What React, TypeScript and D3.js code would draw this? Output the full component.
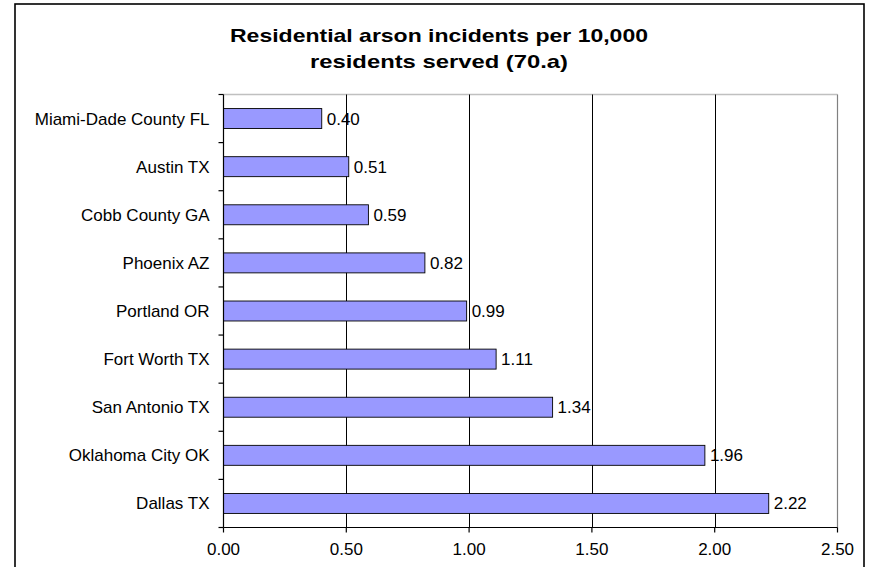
import React, { useEffect, useRef } from "react";
import * as d3 from "d3";

// Residential arson incidents per 10,000 residents served, by department
const categories: string[] = [
  "Miami-Dade County FL",
  "Austin TX",
  "Cobb County GA",
  "Phoenix AZ",
  "Portland OR",
  "Fort Worth TX",
  "San Antonio TX",
  "Oklahoma City OK",
  "Dallas TX",
];
const values: number[] = [0.4, 0.51, 0.59, 0.82, 0.99, 1.11, 1.34, 1.96, 2.22];
const xTicks: number[] = [0, 0.5, 1.0, 1.5, 2.0, 2.5];
const titleLines: string[] = [
  "Residential arson incidents per 10,000",
  "residents served (70.a)",
];

const W = 869;
const H = 567;
const FONT = "'Liberation Sans', Arial, Helvetica, sans-serif";

export default function App() {
  const ref = useRef<SVGSVGElement>(null);

  useEffect(() => {
    const svg = d3.select(ref.current);
    svg.selectAll("*").remove();

    const plot = { left: 223.5, right: 837.5, top: 94.5, bottom: 527.5 };

    const x = d3.scaleLinear().domain([0, 2.5]).range([plot.left, plot.right]);
    const y = d3
      .scaleBand<string>()
      .domain(categories)
      .range([plot.top, plot.bottom])
      .paddingInner(0.585)
      .paddingOuter(0.2925);
    const step = y.step();

    // chart frame
    svg
      .append("rect")
      .attr("x", 15)
      .attr("y", 4)
      .attr("width", 849)
      .attr("height", 600)
      .attr("fill", "#fff")
      .attr("stroke", "#000")
      .attr("stroke-width", 1.6);

    // title
    const title = svg
      .append("g")
      .attr("font-family", FONT)
      .attr("font-weight", "bold")
      .attr("font-size", 19)
      .attr("text-anchor", "middle")
      .attr("fill", "#000");
    const lengths = [418, 258];
    titleLines.forEach((line, i) => {
      title
        .append("text")
        .attr("x", 439)
        .attr("y", 42 + i * 25.5)
        .attr("textLength", lengths[i])
        .attr("lengthAdjust", "spacingAndGlyphs")
        .text(line);
    });

    // plot border (top and right)
    svg
      .append("line")
      .attr("x1", plot.left)
      .attr("x2", plot.right)
      .attr("y1", plot.top)
      .attr("y2", plot.top)
      .attr("stroke", "#c0c0c0")
      .attr("stroke-width", 1.5);
    svg
      .append("line")
      .attr("x1", plot.right)
      .attr("x2", plot.right)
      .attr("y1", plot.top)
      .attr("y2", plot.bottom)
      .attr("stroke", "#808080")
      .attr("stroke-width", 1.2);

    // vertical gridlines
    svg
      .append("g")
      .selectAll("line")
      .data(xTicks.filter((t) => t > 0 && t < 2.5))
      .join("line")
      .attr("x1", (d) => Math.round(x(d)) + 0.5)
      .attr("x2", (d) => Math.round(x(d)) + 0.5)
      .attr("y1", plot.top)
      .attr("y2", plot.bottom)
      .attr("stroke", "#000")
      .attr("stroke-width", 1);

    // bars
    svg
      .append("g")
      .selectAll("rect")
      .data(categories)
      .join("rect")
      .attr("x", x(0))
      .attr("y", (d) => y(d)!)
      .attr("width", (_, i) => x(values[i]) - x(0))
      .attr("height", y.bandwidth())
      .attr("fill", "#9999ff")
      .attr("stroke", "#000")
      .attr("stroke-width", 0.9);

    // value labels
    svg
      .append("g")
      .attr("font-family", FONT)
      .attr("font-size", 17)
      .attr("fill", "#000")
      .selectAll("text")
      .data(categories)
      .join("text")
      .attr("x", (_, i) => x(values[i]) + 5)
      .attr("y", (d) => y(d)! + y.bandwidth() / 2 + 6)
      .text((_, i) => values[i].toFixed(2));

    // category axis
    const yAxis = svg.append("g");
    yAxis
      .append("line")
      .attr("x1", plot.left)
      .attr("x2", plot.left)
      .attr("y1", plot.top)
      .attr("y2", plot.bottom)
      .attr("stroke", "#000")
      .attr("stroke-width", 1.2);
    yAxis
      .selectAll("line.tick")
      .data(d3.range(categories.length + 1))
      .join("line")
      .attr("class", "tick")
      .attr("x1", plot.left - 5)
      .attr("x2", plot.left)
      .attr("y1", (i) => plot.top + i * step)
      .attr("y2", (i) => plot.top + i * step)
      .attr("stroke", "#000")
      .attr("stroke-width", 1.2);
    yAxis
      .append("g")
      .attr("font-family", FONT)
      .attr("font-size", 17)
      .attr("text-anchor", "end")
      .attr("fill", "#000")
      .selectAll("text")
      .data(categories)
      .join("text")
      .attr("x", 209.5)
      .attr("y", (d) => y(d)! + y.bandwidth() / 2 + 6)
      .text((d) => d);

    // value axis
    const xAxis = svg.append("g");
    xAxis
      .append("line")
      .attr("x1", plot.left)
      .attr("x2", plot.right)
      .attr("y1", plot.bottom)
      .attr("y2", plot.bottom)
      .attr("stroke", "#000")
      .attr("stroke-width", 1.2);
    xAxis
      .selectAll("line.tick")
      .data(xTicks)
      .join("line")
      .attr("class", "tick")
      .attr("x1", (d) => x(d))
      .attr("x2", (d) => x(d))
      .attr("y1", plot.bottom)
      .attr("y2", plot.bottom + 5)
      .attr("stroke", "#000")
      .attr("stroke-width", 1.2);
    xAxis
      .append("g")
      .attr("font-family", FONT)
      .attr("font-size", 17)
      .attr("text-anchor", "middle")
      .attr("fill", "#000")
      .selectAll("text")
      .data(xTicks)
      .join("text")
      .attr("x", (d) => x(d))
      .attr("y", 555)
      .text((d) => d.toFixed(2));
  }, []);

  return (
    <svg
      ref={ref}
      width={W}
      height={H}
      style={{ position: "absolute", left: 0, top: 0, background: "#fff" }}
    />
  );
}
